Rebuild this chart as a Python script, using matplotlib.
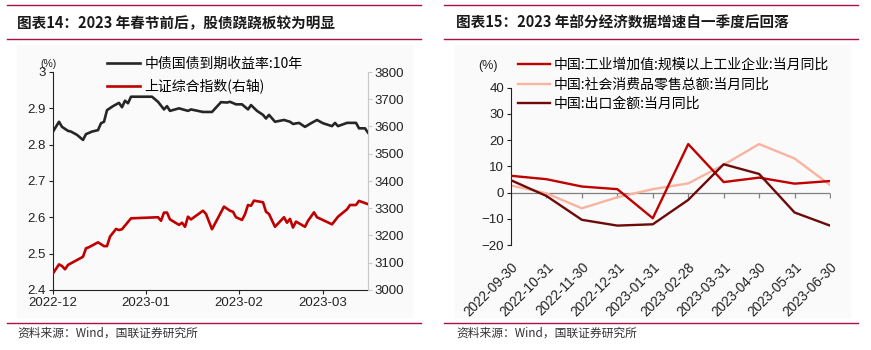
import matplotlib
matplotlib.use("Agg")
import matplotlib.pyplot as plt
import matplotlib.dates as mdates
from matplotlib.ticker import FuncFormatter
from matplotlib.patches import Rectangle
from matplotlib.lines import Line2D
import numpy as np
import pandas as pd

plt.rcParams['font.family'] = ['Liberation Sans', 'Noto Sans CJK SC']
plt.rcParams['axes.unicode_minus'] = True

# ---------------- data: left chart ----------------
bond_dates = ["2022-12-01", "2022-12-03", "2022-12-04", "2022-12-06", "2022-12-07", "2022-12-09",
              "2022-12-11", "2022-12-12", "2022-12-14", "2022-12-16", "2022-12-17", "2022-12-18",
              "2022-12-19", "2022-12-21", "2022-12-23", "2022-12-24", "2022-12-25", "2022-12-26",
              "2022-12-27", "2023-01-03", "2023-01-05", "2023-01-07", "2023-01-08", "2023-01-09",
              "2023-01-12", "2023-01-15", "2023-01-16", "2023-01-20", "2023-01-23", "2023-01-26",
              "2023-01-28", "2023-01-29", "2023-01-31", "2023-02-02", "2023-02-04", "2023-02-05",
              "2023-02-07", "2023-02-09", "2023-02-10", "2023-02-11", "2023-02-13", "2023-02-16",
              "2023-02-18", "2023-02-19", "2023-02-21", "2023-02-23", "2023-02-25", "2023-02-27",
              "2023-03-01", "2023-03-04", "2023-03-05", "2023-03-06", "2023-03-09", "2023-03-12",
              "2023-03-13", "2023-03-15", "2023-03-16"]
bond_yield = [2.836, 2.863, 2.849, 2.838, 2.836, 2.827,
              2.813, 2.829, 2.836, 2.840, 2.859, 2.863,
              2.895, 2.906, 2.915, 2.903, 2.921, 2.914,
              2.932, 2.932, 2.918, 2.897, 2.906, 2.893,
              2.900, 2.893, 2.897, 2.890, 2.890, 2.917,
              2.916, 2.918, 2.911, 2.911, 2.897, 2.909,
              2.893, 2.882, 2.872, 2.882, 2.863, 2.868,
              2.863, 2.857, 2.860, 2.849, 2.859, 2.868,
              2.859, 2.851, 2.860, 2.851, 2.860, 2.860,
              2.845, 2.845, 2.833]

sh_dates = ["2022-12-01", "2022-12-03", "2022-12-04", "2022-12-05", "2022-12-06", "2022-12-11",
            "2022-12-12", "2022-12-13", "2022-12-16", "2022-12-18", "2022-12-19", "2022-12-20",
            "2022-12-22", "2022-12-23", "2022-12-24", "2022-12-27", "2023-01-05", "2023-01-06",
            "2023-01-07", "2023-01-08", "2023-01-09", "2023-01-12", "2023-01-13", "2023-01-14",
            "2023-01-15", "2023-01-16", "2023-01-20", "2023-01-21", "2023-01-23", "2023-01-27",
            "2023-01-29", "2023-01-30", "2023-01-31", "2023-02-02", "2023-02-03", "2023-02-04",
            "2023-02-05", "2023-02-06", "2023-02-09", "2023-02-10", "2023-02-11", "2023-02-13",
            "2023-02-16", "2023-02-17", "2023-02-18", "2023-02-19", "2023-02-20", "2023-02-23",
            "2023-02-24", "2023-02-26", "2023-02-27", "2023-03-04", "2023-03-06", "2023-03-09",
            "2023-03-10", "2023-03-12", "2023-03-13", "2023-03-16"]
sh_index = [3061, 3094, 3088, 3076, 3092, 3122,
            3153, 3157, 3175, 3161, 3161, 3196,
            3224, 3220, 3223, 3263, 3267, 3254,
            3284, 3284, 3259, 3239, 3247, 3232,
            3269, 3259, 3291, 3279, 3223, 3306,
            3291, 3287, 3267, 3257, 3278, 3312,
            3309, 3328, 3322, 3287, 3279, 3232,
            3267, 3247, 3261, 3229, 3251, 3232,
            3254, 3285, 3267, 3241, 3269, 3296,
            3312, 3312, 3327, 3315]

left_title = "图表14：2023 年春节前后，股债跷跷板较为明显"
left_legend = ["中债国债到期收益率:10年", "上证综合指数(右轴)"]
left_yticks = [2.4, 2.5, 2.6, 2.7, 2.8, 2.9, 3.0]
right_axis_ticks = [3000, 3100, 3200, 3300, 3400, 3500, 3600, 3700, 3800]

# ---------------- data: right chart ----------------
months = ["2022-09-30", "2022-10-31", "2022-11-30", "2022-12-31", "2023-01-31",
          "2023-02-28", "2023-03-31", "2023-04-30", "2023-05-31", "2023-06-30"]
industrial = [6.4, 5.1, 2.3, 1.3, -9.8, 18.5, 4.0, 5.7, 3.4, 4.4]
retail = [2.7, -0.3, -6.0, -1.8, 1.3, 3.5, 10.6, 18.5, 13.0, 2.9]
exports = [4.7, -1.3, -10.4, -12.6, -12.1, -2.8, 10.8, 7.1, -7.6, -12.6]
right_title = "图表15：2023 年部分经济数据增速自一季度后回落"
right_legend = ["中国:工业增加值:规模以上工业企业:当月同比",
                "中国:社会消费品零售总额:当月同比",
                "中国:出口金额:当月同比"]
right_yticks = [-20, -10, 0, 10, 20, 30, 40]
source_text = "资料来源：Wind，国联证券研究所"

# ---------------- figure ----------------
W, H = 871, 350
fig = plt.figure(figsize=(W / 100, H / 100), dpi=100)
fig.patch.set_facecolor('white')

def fx(px):
    return px / W

def fy(py):
    return 1 - py / H

hdr_red = '#a8123e'
cjk = ['Noto Sans CJK SC', 'Liberation Sans']

# faint panel backgrounds
for (x0, x1) in [(17, 412), (455, 850)]:
    fig.add_artist(Rectangle((fx(x0), fy(317)), fx(x1 - x0), (317 - 45) / H,
                             transform=fig.transFigure, color='#fafafa', zorder=-10))

# header / footer lines and texts
for (x0, x1, tx, title) in [(7, 421, 17, left_title), (444, 858, 456, right_title)]:
    for yy in (5, 39, 323):
        fig.add_artist(Line2D([fx(x0), fx(x1)], [fy(yy), fy(yy)], color=hdr_red, lw=1.0,
                              transform=fig.transFigure))
    fig.text(fx(tx), fy(23), title, fontsize=10.5, fontweight='bold', family=cjk,
             color='#1a1a1a', ha='left', va='center')
    fig.text(fx(tx), fy(333), source_text, fontsize=8.5, family=cjk, color='#333333',
             ha='left', va='center')

# ---------------- left chart ----------------
ax1 = fig.add_axes([fx(53), fy(290), fx(368 - 53), (290 - 72) / H])
ax1.set_facecolor('none')
ax2 = ax1.twinx()
ax2.set_facecolor('none')
bd = pd.to_datetime(bond_dates)
sd = pd.to_datetime(sh_dates)
l1, = ax1.plot(bd, bond_yield, color='#262626', lw=1.9, label=left_legend[0], solid_joinstyle='round')
l2, = ax2.plot(sd, sh_index, color='#c00000', lw=1.9, label=left_legend[1], solid_joinstyle='round')
ax1.set_ylim(2.4, 3.0)
ax2.set_ylim(3000, 3800)
ax1.set_yticks(left_yticks)
ax1.yaxis.set_major_formatter(FuncFormatter(lambda v, p: f"{v:g}"))
ax2.set_yticks(right_axis_ticks)
ax1.set_xlim(pd.Timestamp("2022-12-01"), pd.Timestamp("2023-03-16"))
ax1.xaxis.set_major_locator(mdates.MonthLocator())
ax1.xaxis.set_major_formatter(mdates.DateFormatter('%Y-%m'))
ax1.spines['top'].set_visible(False)
ax2.spines['top'].set_visible(False)
ax1.spines['right'].set_visible(False)
ax2.spines['left'].set_visible(False)
ax2.spines['bottom'].set_visible(False)
ax2.spines['right'].set_color('#c8c8c8')
ax1.spines['left'].set_color('#222222')
ax1.spines['bottom'].set_color('#222222')
ax1.tick_params(axis='y', direction='out', length=3, labelsize=9.5, pad=2, colors='#222222')
ax1.tick_params(axis='x', direction='out', length=3, labelsize=9.5, pad=2, colors='#222222')
ax2.tick_params(axis='y', direction='out', length=3, labelsize=9.5, pad=2, color='#c8c8c8',
                labelcolor='#222222')
fig.text(fx(48), fy(64), "(%)", fontsize=7.5, ha='center', va='center', color='#222222')
ax2.legend(handles=[l1, l2], loc='upper left', bbox_to_anchor=(fx(107), fy(57)),
           bbox_transform=fig.transFigure, frameon=False, prop={'family': cjk, 'size': 10},
           handlelength=2.4, handletextpad=0.3, labelspacing=0.55, borderpad=0,
           borderaxespad=0)

# ---------------- right chart ----------------
ax3 = fig.add_axes([fx(511), fy(245), fx(830 - 511), (245 - 87.7) / H])
ax3.set_facecolor('none')
x = np.arange(len(months))
ax3.axhline(0, color='#808080', lw=0.9, zorder=1)
ax3.plot(x, np.zeros(len(x)), ls='none', marker=3, ms=3.5, mew=0.9, color='#808080', zorder=1)
la, = ax3.plot(x, industrial, color='#c00000', lw=1.7, label=right_legend[0], zorder=3)
lb, = ax3.plot(x, retail, color='#f8b4a0', lw=1.7, label=right_legend[1], zorder=2)
lc, = ax3.plot(x, exports, color='#6e0a0a', lw=1.7, label=right_legend[2], zorder=3)
ax3.set_xlim(0, len(months) - 1)
ax3.set_ylim(-20, 40)
ax3.set_yticks(right_yticks)
ax3.set_xticks(x)
ax3.set_xticklabels(months, rotation=45, ha='right', va='top', rotation_mode='anchor')
ax3.tick_params(axis='x', length=0, pad=11, labelsize=9.8, colors='#222222')
ax3.tick_params(axis='y', direction='out', length=3, labelsize=9.5, pad=2, colors='#222222')
for s in ['top', 'right', 'bottom']:
    ax3.spines[s].set_visible(False)
ax3.spines['left'].set_color('#222222')
fig.text(fx(488), fy(66), "(%)", fontsize=9, ha='center', va='center', color='#222222')
ax3.legend(handles=[la, lb, lc], loc='upper left', bbox_to_anchor=(fx(518), fy(58)),
           bbox_transform=fig.transFigure, frameon=False, prop={'family': cjk, 'size': 10},
           handlelength=2.3, handletextpad=0.3, labelspacing=0.4, borderpad=0,
           borderaxespad=0)

fig.savefig("out.png", dpi=100)
